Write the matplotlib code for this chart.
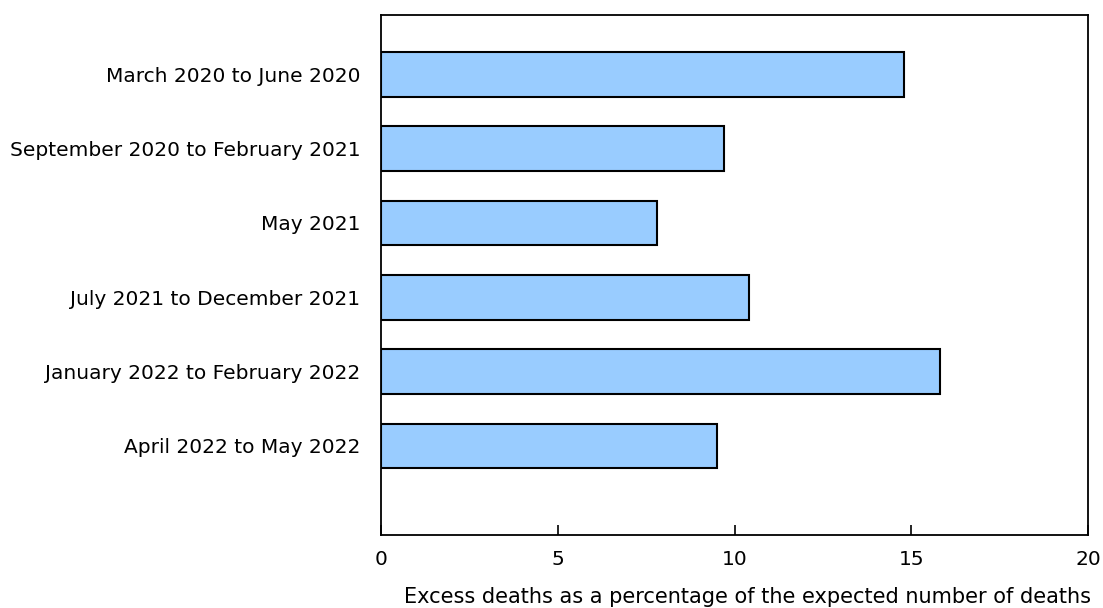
import matplotlib
matplotlib.use("Agg")
import matplotlib.pyplot as plt

# periods and excess deaths (% of expected)
periods = ["March 2020 to June 2020",
           "September 2020 to February 2021",
           "May 2021",
           "July 2021 to December 2021",
           "January 2022 to February 2022",
           "April 2022 to May 2022"]
excess_pct = [14.8, 9.7, 7.8, 10.4, 15.8, 9.5]
xticks = [0, 5, 10, 15, 20]

plt.rcParams['font.family'] = ['DejaVu Sans']
fig = plt.figure(figsize=(11.03, 6.08), dpi=100)
ax = fig.add_axes([381/1103, 1-535/608, (1088-381)/1103, (535-15)/608])

ypos = list(range(len(periods)))
ax.barh(ypos, excess_pct, height=0.6, color='#99ccff', edgecolor='black', linewidth=1.5)

ax.set_xlim(0, 20)
ax.set_ylim(6.2, -0.8)
ax.set_xticks(xticks)
ax.set_xticklabels([str(t) for t in xticks], fontsize=14.5)
ax.set_yticks(ypos)
ax.set_yticklabels(periods, fontsize=14.5)
ax.tick_params(axis='y', length=0, pad=15)
ax.tick_params(axis='x', direction='in', length=7, width=1.2, pad=11)
for s in ax.spines.values():
    s.set_linewidth(1.3)
ax.set_xlabel("Excess deaths as a percentage of the expected number of deaths",
              fontsize=15, labelpad=13, x=0.519)

fig.savefig("out.png", dpi=100)
